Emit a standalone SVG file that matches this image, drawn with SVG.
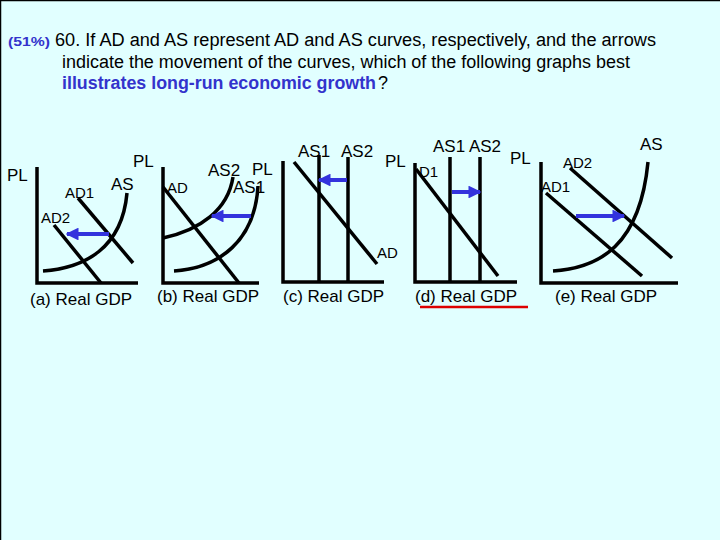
<svg xmlns="http://www.w3.org/2000/svg" width="720" height="540" viewBox="0 0 720 540">
<style>
text{font-family:"Liberation Sans",Arial,sans-serif;fill:#000}
.t{font-size:18px}
.b{fill:#3333CC;font-weight:bold}
.lb{font-size:17px}
.sm{font-size:15px}
.ln{stroke:#000;stroke-width:3.5;fill:none;stroke-linecap:butt}
.ar{stroke:#3333DD;stroke-width:4;fill:none;marker-end:url(#ah)}
</style>
<defs>
<marker id="ah" viewBox="0 0 10 10" refX="9" refY="5" markerWidth="3.2" markerHeight="3.2" orient="auto" markerUnits="strokeWidth">
<path d="M0,0 L10,5 L0,10 Z" fill="#3333DD"/>
</marker>
</defs>
<rect x="0" y="0" width="720" height="540" fill="#E1FFFF"/>
<path d="M0.5,540 V0.5 H720" stroke="#000" stroke-width="1.5" fill="none"/>
<g id="title">
<text x="8" y="46" style="font-size:13px" class="b" textLength="42" lengthAdjust="spacingAndGlyphs">(51%)</text>
<text x="55" y="46" class="t" textLength="601" lengthAdjust="spacingAndGlyphs">60. If AD and AS represent AD and AS curves, respectively, and the arrows</text>
<text x="62" y="68" class="t" textLength="568" lengthAdjust="spacingAndGlyphs">indicate the movement of the curves, which of the following graphs best</text>
<text x="62" y="89" class="t b" textLength="314" lengthAdjust="spacingAndGlyphs">illustrates long-run economic growth</text>
<text x="378" y="89" class="t">?</text>
</g>
<g id="graph-a">
<path class="ln" d="M37,167 V283 H138"/>
<path class="ln" d="M43,271 C85,268 122,248 127,193"/>
<path class="ln" d="M78,198 L133,263"/>
<path class="ln" d="M54,225 L101,283"/>
<text x="7" y="181" class="lb">PL</text>
<text x="111" y="190" class="lb">AS</text>
<text x="65" y="198" class="sm">AD1</text>
<text x="41" y="223" class="sm">AD2</text>
<text x="30" y="305" class="lb">(a) Real GDP</text>
</g>
<g id="graph-b">
<path class="ln" d="M163,167 V283 H259"/>
<path class="ln" d="M163,187 L239,283"/>
<path class="ln" d="M163,238 C200,230 228,210 233,177"/>
<path class="ln" d="M174,271 C220,268 255,240 258,186"/>
<text x="133" y="167" class="lb">PL</text>
<text x="167" y="193" class="sm">AD</text>
<text x="208" y="176" class="lb">AS2</text>
<text x="252" y="175" class="lb">PL</text>
<text x="233" y="193" class="lb">AS1</text>
<text x="157" y="302" class="lb">(b) Real GDP</text>
</g>
<g id="graph-c">
<path class="ln" d="M283,161 V282 H384"/>
<path class="ln" d="M319,155 V282"/>
<path class="ln" d="M348,157 V282"/>
<path class="ln" d="M294,162 L377,264"/>
<text x="298" y="157" class="lb">AS1</text>
<text x="341" y="157" class="lb">AS2</text>
<text x="377" y="258" class="sm">AD</text>
<text x="283" y="302" class="lb">(c) Real GDP</text>
</g>
<g id="graph-d">
<path class="ln" d="M415,163 V282 H517"/>
<path class="ln" d="M450,157 V282"/>
<path class="ln" d="M480,157 V282"/>
<path class="ln" d="M416,169 L498,276"/>
<text x="385" y="167" class="lb">PL</text>
<text x="419" y="177" class="sm">D1</text>
<text x="433" y="152" class="lb">AS1 AS2</text>
<text x="510" y="164" class="lb">PL</text>
<text x="415" y="302" class="lb">(d) Real GDP</text>
<path d="M420,307 H528" stroke="#DD0000" stroke-width="2.5"/>
</g>
<g id="graph-e">
<path class="ln" d="M541,162 V283 H678"/>
<path class="ln" d="M553,271 C600,268 640,245 648,162"/>
<path class="ln" d="M546,193 L642,276"/>
<path class="ln" d="M570,168 L672,258"/>
<text x="640" y="150" class="lb">AS</text>
<text x="563" y="168" class="sm">AD2</text>
<text x="541" y="192" class="sm">AD1</text>
<text x="555" y="302" class="lb">(e) Real GDP</text>
</g>
<g id="connectors">
<path class="ar" d="M109,234 H67"/>
<path class="ar" d="M251,216 H212"/>
<path class="ar" d="M347,180 H319"/>
<path class="ar" d="M452,192 H480"/>
<path class="ar" d="M576,216 H624"/>
</g>
</svg>
